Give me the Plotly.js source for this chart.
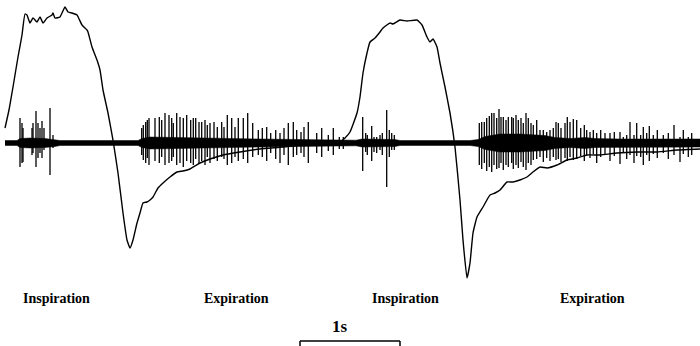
<!DOCTYPE html>
<html>
<head>
<meta charset="utf-8">
<script src="https://cdn.plot.ly/plotly-3.0.1.min.js"></script>
<style>
html,body{margin:0;padding:0;background:#fff;}
#chart{width:700px;height:346px;}
</style>
</head>
<body>
<div id="chart"></div>
<script>
// ---- Slow respiratory (flow) trace: time (s) and value (arbitrary units, + = inspiration)
const slowT = [0.05,0.09,0.13,0.18,0.22,0.25,0.27,0.30,0.33,0.37,0.40,0.43,0.47,0.52,0.53,0.55,0.60,0.65,0.68,0.72,0.77,0.82,0.87,0.88,0.92,0.97,1.00,1.03,1.08,1.13,1.18,1.23,1.27,1.30,1.33,1.37,1.40,1.43,1.47,1.50,1.53,1.58,1.63,1.70,1.77,1.83,1.90,2.00,2.10,2.23,2.40,2.60,2.83,3.00,3.20,3.40,3.45,3.50,3.57,3.60,3.63,3.67,3.70,3.75,3.80,3.83,3.90,3.93,4.00,4.07,4.17,4.22,4.27,4.30,4.33,4.37,4.40,4.45,4.50,4.55,4.60,4.63,4.67,4.70,4.73,4.77,4.83,4.90,4.95,5.00,5.07,5.13,5.20,5.27,5.33,5.40,5.47,5.57,5.67,5.77,5.87,6.00,6.17,6.37,6.57,6.77,7.00];
const slowV = [15,33,56,86,108,129,128,120,125,121,126,120,125,128,130,125,126,136,131,130,128,118,113,111,96,83,73,53,30,3,-30,-70,-97,-105,-97,-80,-70,-60,-59,-57,-54,-45,-40,-34,-29,-28,-26,-20,-16,-12,-9,-6,-4,-2,0,1,5,11,30,46,70,90,101,105,111,115,120,119,123,122,123,118,106,101,104,96,80,56,30,-4,-57,-97,-135,-120,-90,-74,-64,-52,-50,-47,-39,-39,-37,-34,-29,-24,-25,-22,-17,-15,-12,-12,-10,-9,-9,-7,-6];

// ---- Nerve recording: spike times (s), upward and downward amplitudes
const spikeT = [0.20,0.22,0.23,0.32,0.33,0.36,0.38,0.40,0.42,0.44,0.50,0.53,
1.417,1.433,1.457,1.473,1.49,1.55,1.593,1.617,1.65,1.69,1.717,1.733,1.767,1.80,1.833,1.867,1.907,1.933,1.957,1.99,2.017,2.05,2.073,2.10,2.14,2.173,2.217,2.24,2.273,2.317,2.35,2.383,2.433,2.477,2.527,2.583,2.623,2.667,2.707,2.757,2.80,2.84,2.883,2.933,2.967,3.01,3.04,3.083,3.167,3.217,3.283,3.333,3.393,3.433,
3.627,3.657,3.673,3.717,3.74,3.767,3.80,3.823,3.867,3.893,3.917,3.943,
4.793,4.817,4.843,4.867,4.893,4.917,4.94,4.967,4.99,5.01,5.033,5.06,5.083,5.117,5.133,5.16,5.183,5.21,5.233,5.26,5.283,5.31,5.333,5.367,5.40,5.433,5.467,5.50,5.533,5.56,5.583,5.61,5.65,5.673,5.70,5.733,5.767,5.807,5.843,5.867,5.90,5.933,5.967,6.007,6.05,6.10,6.143,6.20,6.233,6.267,6.30,6.34,6.367,6.407,6.433,6.467,6.493,6.533,6.573,6.633,6.683,6.74,6.80,6.833,6.883,6.917,6.96,6.983];
const spikeUp = [25,20,15,15,20,32,20,15,22,15,35,8,
15,18,21,23,25,25,26,23,30,28,25,20,30,26,25,28,23,25,25,21,21,23,18,20,21,16,21,16,28,25,16,25,25,30,20,13,15,16,10,13,10,15,20,21,13,11,16,21,10,15,8,15,6,6,
26,10,8,17,6,6,8,10,33,13,10,8,
20,21,21,25,27,30,30,25,34,26,26,23,26,26,25,28,23,25,20,30,25,20,18,23,13,13,11,13,15,21,20,15,20,26,21,24,23,15,18,13,11,13,10,13,10,10,11,11,6,8,21,8,20,8,16,10,17,8,13,8,10,18,6,13,6,10,11,10];
const spikeDown = [24,20,19,12,10,24,15,10,15,7,32,5,
12,17,20,15,22,18,20,14,22,20,18,14,22,20,24,18,20,22,16,20,18,22,14,20,16,18,14,16,22,20,14,18,16,20,14,12,14,18,10,16,20,12,22,14,12,10,14,20,10,14,8,12,6,6,
28,9,12,18,9,10,7,12,44,14,7,7,
22,26,20,28,24,29,22,26,25,20,27,22,24,20,26,22,25,19,24,27,20,22,17,16,14,19,15,18,14,17,16,19,15,18,14,17,16,13,18,12,15,11,20,14,12,18,13,21,10,16,12,20,13,14,22,12,18,11,15,10,16,12,19,11,14,12];

// ---- Nerve background activity envelope: time (s) and half-width (units)
const envT = [0.05,0.17,0.20,0.30,0.45,0.55,0.60,1.38,1.42,1.50,1.70,2.00,2.40,2.60,3.00,3.40,3.50,3.56,3.62,3.80,3.95,4.00,4.70,4.78,4.85,5.00,5.20,5.45,5.55,5.70,5.85,5.95,6.20,6.60,7.00];
const envW = [2.5,2.5,4.5,5,4.5,3.5,2.5,2.5,4.5,6,5.5,5,4.5,4,3.5,3,2.8,2.8,4,4,3.5,2.5,2.5,3.5,6.5,9,9,7.5,5.5,4.5,5.5,4.5,4,4,4];

// ---- Text labels
const phaseLabels = ["Inspiration","Expiration","Inspiration","Expiration"];
const phaseCenters = [0.56,2.36,4.05,5.92];
const scaleLabel = "1s";
const scaleStart = 3.00, scaleLength = 1.0;

// build traces
const sx = [], sy = [];
for (let i = 0; i < spikeT.length; i++) {
  sx.push(spikeT[i], spikeT[i], null);
  sy.push(spikeUp[i], -spikeDown[i], null);
}
const ex = envT.concat(envT.slice().reverse());
const ey = envW.concat(envW.slice().reverse().map(v => -v));

const data = [
  {x: ex, y: ey, type: 'scatter', mode: 'lines', fill: 'toself', fillcolor: '#000',
   line: {color: '#000', width: 0.5}, hoverinfo: 'skip'},
  {x: sx, y: sy, type: 'scatter', mode: 'lines', line: {color: '#000', width: 1.3}, hoverinfo: 'skip'},
  {x: slowT, y: slowV, type: 'scatter', mode: 'lines', line: {color: '#000', width: 1.4, shape: 'spline', smoothing: 0.4}, hoverinfo: 'skip'}
];

const annotations = phaseLabels.map((t, i) => ({
  text: t, x: phaseCenters[i], y: -155, xref: 'x', yref: 'y', showarrow: false,
  font: {family: 'Liberation Serif', size: 14, color: '#000', weight: 'bold'}
}));
annotations.push({text: '<b>' + scaleLabel + '</b>', x: scaleStart + scaleLength * 0.4, y: -183, xref: 'x', yref: 'y',
  showarrow: false, font: {family: 'Liberation Serif', size: 17, color: '#000'}});

const shapes = [
  {type: 'line', xref: 'x', yref: 'y', x0: scaleStart, x1: scaleStart + scaleLength, y0: -198, y1: -198, line: {color: '#000', width: 1.5}},
  {type: 'line', xref: 'x', yref: 'y', x0: scaleStart, x1: scaleStart, y0: -198, y1: -205, line: {color: '#000', width: 1.5}},
  {type: 'line', xref: 'x', yref: 'y', x0: scaleStart + scaleLength, x1: scaleStart + scaleLength, y0: -198, y1: -205, line: {color: '#000', width: 1.5}}
];

const layout = {
  width: 700, height: 346,
  margin: {l: 0, r: 0, t: 0, b: 0},
  paper_bgcolor: '#fff', plot_bgcolor: '#fff',
  showlegend: false,
  xaxis: {range: [0, 7], visible: false, fixedrange: true},
  yaxis: {range: [-203, 143], visible: false, fixedrange: true},
  annotations: annotations,
  shapes: shapes
};

Plotly.newPlot('chart', data, layout, {staticPlot: true, displayModeBar: false});
</script>
</body>
</html>
